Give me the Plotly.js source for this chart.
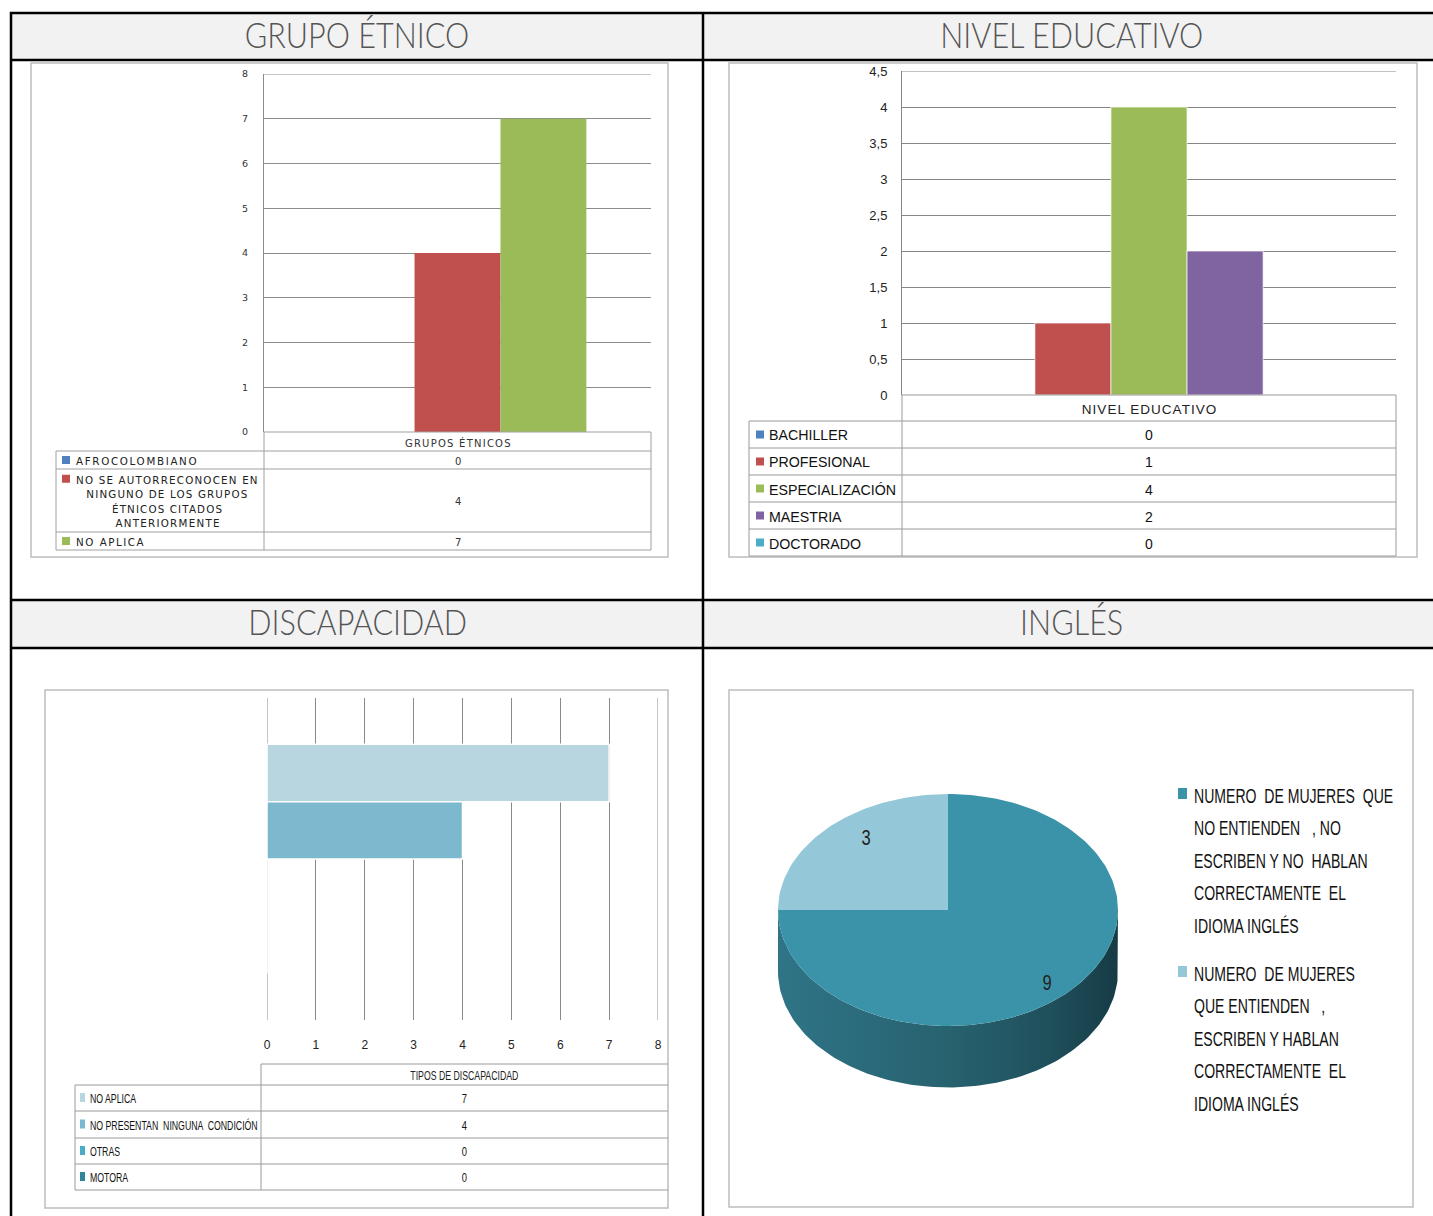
<!DOCTYPE html>
<html>
<head>
<meta charset="utf-8">
<script src="https://cdn.plot.ly/plotly-3.0.1.min.js"></script>
<style>html,body{margin:0;padding:0;background:#fff;}#chart{width:1433px;height:1216px;}</style>
</head>
<body>
<div id="chart"></div>
<script>
// ---------------- DATA ----------------
const panelTitles = ['GRUPO ÉTNICO', 'NIVEL EDUCATIVO', 'DISCAPACIDAD', 'INGLÉS'];

const etnicoCategory = 'GRUPOS ÉTNICOS';
const etnicoSeries = ['AFROCOLOMBIANO', 'NO SE AUTORRECONOCEN EN NINGUNO DE LOS GRUPOS ÉTNICOS CITADOS ANTERIORMENTE', 'NO APLICA'];
const etnicoLabelLines = [['AFROCOLOMBIANO'], ['NO SE AUTORRECONOCEN EN', 'NINGUNO DE LOS GRUPOS', 'ÉTNICOS CITADOS', 'ANTERIORMENTE'], ['NO APLICA']];
const etnicoValues = [0, 4, 7];

const educCategory = 'NIVEL EDUCATIVO';
const educSeries = ['BACHILLER', 'PROFESIONAL', 'ESPECIALIZACIÓN', 'MAESTRIA', 'DOCTORADO'];
const educValues = [0, 1, 4, 2, 0];

const discCategory = 'TIPOS DE DISCAPACIDAD';
const discSeries = ['NO APLICA', 'NO PRESENTAN  NINGUNA  CONDICIÓN', 'OTRAS', 'MOTORA'];
const discValues = [7, 4, 0, 0];

const inglesSeries = [
  'NUMERO DE MUJERES QUE NO ENTIENDEN , NO ESCRIBEN Y NO HABLAN CORRECTAMENTE EL IDIOMA INGLÉS',
  'NUMERO DE MUJERES QUE ENTIENDEN , ESCRIBEN Y HABLAN CORRECTAMENTE EL IDIOMA INGLÉS'
];
const inglesLegendLines = [
  ['NUMERO  DE MUJERES  QUE', 'NO ENTIENDEN   , NO', 'ESCRIBEN Y NO  HABLAN', 'CORRECTAMENTE  EL', 'IDIOMA INGLÉS'],
  ['NUMERO  DE MUJERES', 'QUE ENTIENDEN   ,', 'ESCRIBEN Y HABLAN', 'CORRECTAMENTE  EL', 'IDIOMA INGLÉS']
];
const inglesValues = [9, 3];

// ---------------- STYLE ----------------
const W = 1433, H = 1216;
const X = p => p / W, Y = p => 1 - p / H;
const etnicoColors = ['#4f81bd', '#c0504d', '#9bbb59'];
const educColors = ['#4f81bd', '#c0504d', '#9bbb59', '#8064a2', '#4bacc6'];
const discColors = ['#b7d6e0', '#7cb9cf', '#4bacc6', '#31849b'];
const inglesColors = ['#3b93a9', '#94c7d7'];
const NARROW = 'Liberation Sans, Arial, sans-serif';
const WIDE = 'DejaVu Sans, Verdana, sans-serif';
const CAL = 'Liberation Sans, Arial, sans-serif';

const shapes = [], ann = [], traces = [], stretch = [];
function line(x0, y0, x1, y1, color, width) {
  shapes.push({type: 'line', xref: 'paper', yref: 'paper', x0: X(x0), y0: Y(y0), x1: X(x1), y1: Y(y1), line: {color: color, width: width}});
}
function rect(x0, y0, x1, y1, fill, color, width, layer) {
  shapes.push({type: 'rect', xref: 'paper', yref: 'paper', x0: X(x0), y0: Y(y0), x1: X(x1), y1: Y(y1),
    fillcolor: fill || 'rgba(0,0,0,0)', line: {color: color || 'rgba(0,0,0,0)', width: width || 0}, layer: layer || 'above'});
}
// grid line at an axis value (edges of the value range)
function gridAt(axis, v, color) {
  const isX = axis[0] === 'x';
  const other = {x: 'y', x2: 'y2', x3: 'y3', y: 'x', y2: 'x2', y3: 'x3'}[axis];
  if (isX) shapes.push({type: 'line', xref: axis, yref: other + ' domain', x0: v, x1: v, y0: 0, y1: 1, line: {color: color, width: 1}, layer: 'below'});
  else shapes.push({type: 'line', yref: axis, xref: other + ' domain', y0: v, y1: v, x0: 0, x1: 1, line: {color: color, width: 1}, layer: 'below'});
}
// o.k = horizontal stretch factor, o.m = 'spacing' (letter spacing) | 'scale' (glyph compression)
function txt(text, x, y, o) {
  o = o || {};
  const xa = o.xa || 'center';
  ann.push({xref: 'paper', yref: 'paper', x: X(x), y: Y(y), text: text, showarrow: false,
    xanchor: xa, yanchor: 'middle', align: xa === 'left' ? 'left' : 'center',
    font: {family: o.f || WIDE, size: o.s || 10, color: o.c || '#222', weight: o.w || 400}});
  if (o.k) stretch.push({i: ann.length - 1, k: o.k, m: o.m || 'scale', left: xa === 'left'});
}

// ---------- Outer grid & headers ----------
rect(11, 13, 1433, 60, '#f2f2f2', null, 0, 'below');
rect(11, 600, 1433, 648, '#f2f2f2', null, 0, 'below');
[13, 60, 600, 648].forEach(y => line(10, y, 1433, y, '#000', 2.5));
[11, 703].forEach(x => line(x, 12, x, 1216, '#000', 2.5));
const titlePos = [[357, 34], [1072, 34], [357, 621], [1071, 621]];
panelTitles.forEach((t, i) => txt(t, titlePos[i][0], titlePos[i][1], {f: 'Lato, Open Sans, sans-serif', s: 36, c: '#555', w: 300, k: 0.85}));

// chart boxes
rect(31, 63, 668, 557, null, '#bdbdbd', 1.5);
rect(729, 63, 1417, 557, null, '#bdbdbd', 1.5);
rect(45, 690, 668, 1208, null, '#bdbdbd', 1.5);
rect(729, 690, 1413, 1207, null, '#bdbdbd', 1.5);

// ---------- Panel 1: Grupo étnico ----------
const etnicoMax = 8;
(function () {
  const n = etnicoSeries.length, w = 0.222;
  etnicoSeries.forEach((s, i) => traces.push({
    type: 'bar', name: s, x: [etnicoCategory], y: [etnicoValues[i]], xaxis: 'x', yaxis: 'y',
    width: w, offset: -n * w / 2 + i * w, marker: {color: etnicoColors[i], line: {width: 0}}
  }));
  gridAt('y', etnicoMax, '#8c8c8c');
  const L = 56, M = 264, R = 651, top = 432;
  const rows = [451, 469, 532, 550];
  const tc = '#a0a0a0';
  line(M, top, R, top, tc, 1);
  rows.forEach(y => line(L, y, R, y, tc, 1));
  line(M, top, M, rows[rows.length - 1], tc, 1);
  line(R, top, R, rows[rows.length - 1], tc, 1);
  line(L, rows[0], L, rows[rows.length - 1], tc, 1);
  txt(etnicoCategory, (M + R) / 2, (top + rows[0]) / 2 + 1, {s: 10, c: '#333', k: 1.18, m: 'spacing'});
  etnicoSeries.forEach((s, i) => {
    const y0 = rows[i], y1 = rows[i + 1];
    const lines = etnicoLabelLines[i];
    const lh = 14.5;
    const firstY = (y0 + y1) / 2 - (lines.length - 1) * lh / 2;
    rect(62, firstY - 4, 70, firstY + 4, etnicoColors[i], null, 0);
    lines.forEach((l, k) => {
      if (k === 0) txt(l, 74, firstY + 1, {s: 10.3, xa: 'left', c: '#222', k: lines.length > 1 ? 1.17 : 1.22, m: 'spacing'});
      else txt(l, 167, firstY + k * lh + 1, {s: 10.3, c: '#222', k: 1.17, m: 'spacing'});
    });
    txt(String(etnicoValues[i]), (M + R) / 2, (y0 + y1) / 2 + 1, {s: 10, c: '#333'});
  });
})();

// ---------- Panel 2: Nivel educativo ----------
const educMax = 4.5;
(function () {
  const n = educSeries.length, w = 0.154;
  educSeries.forEach((s, i) => traces.push({
    type: 'bar', name: s, x: [educCategory], y: [educValues[i]], xaxis: 'x2', yaxis: 'y2',
    width: w, offset: -n * w / 2 + i * w, marker: {color: educColors[i], line: {width: 1, color: 'rgba(255,255,255,0.7)'}}
  }));
  gridAt('y2', educMax, '#868686');
  const L = 749, M = 902, R = 1396, top = 395;
  const rows = [421, 448, 475, 502, 529, 556];
  const tc = '#9a9a9a';
  line(M, top, R, top, tc, 1);
  rows.forEach(y => line(L, y, R, y, tc, 1));
  line(M, top, M, rows[rows.length - 1], tc, 1);
  line(R, top, R, rows[rows.length - 1], tc, 1);
  line(L, rows[0], L, rows[rows.length - 1], tc, 1);
  txt(educCategory, (M + R) / 2, (top + rows[0]) / 2 + 1, {f: CAL, s: 13.5, c: '#222', k: 1.12, m: 'spacing'});
  educSeries.forEach((s, i) => {
    const yc = (rows[i] + rows[i + 1]) / 2;
    rect(756, yc - 4, 764, yc + 4, educColors[i], null, 0);
    txt(s, 767, yc + 1, {f: CAL, s: 14.5, xa: 'left', c: '#111', k: 0.98});
    txt(String(educValues[i]), (M + R) / 2, yc + 1, {f: CAL, s: 14, c: '#111'});
  });
})();

// ---------- Panel 3: Discapacidad ----------
const discMax = 8;
(function () {
  const n = discSeries.length, w = 0.178;
  discSeries.forEach((s, i) => traces.push({
    type: 'bar', orientation: 'h', name: s, y: [discCategory], x: [discValues[i]], xaxis: 'x3', yaxis: 'y3',
    width: w, offset: n * w / 2 - (i + 1) * w, marker: {color: discColors[i], line: {width: 1.5, color: '#ffffff'}}
  }));
  gridAt('x3', 0, '#8a8a8a');
  gridAt('x3', discMax, '#8a8a8a');
  const L = 75, M = 261, R = 668, top = 1064;
  const rows = [1085, 1111, 1138, 1164, 1190];
  const tc = '#9a9a9a';
  line(M, top, R, top, tc, 1);
  rows.forEach(y => line(L, y, R, y, tc, 1));
  line(M, top, M, rows[rows.length - 1], tc, 1);
  line(L, rows[0], L, rows[rows.length - 1], tc, 1);
  txt(discCategory, 464, (top + rows[0]) / 2 + 1, {f: NARROW, s: 12.5, c: '#222', k: 0.7});
  discSeries.forEach((s, i) => {
    const yc = (rows[i] + rows[i + 1]) / 2;
    rect(80, yc - 5, 85, yc + 4, discColors[i], null, 0);
    txt(s, 88, yc + 1, {f: NARROW, s: 12.5, xa: 'left', c: '#111', k: 0.7});
    txt(String(discValues[i]), 464, yc + 1, {f: NARROW, s: 12.5, c: '#111', k: 0.75});
  });
})();

// ---------- Panel 4: Inglés (3D-look pie) ----------
const pieCx = 948, pieCy = 910, pieRx = 170, pieRy = 116;
(function () {
  const depth = 0.53, N = 120;
  const total = inglesValues.reduce((a, b) => a + b, 0);
  // side wall (front half of the disc)
  const sx = [], sy = [];
  for (let k = 0; k <= N; k++) { const a = Math.PI + Math.PI * k / N; sx.push(Math.cos(a)); sy.push(Math.sin(a)); }
  for (let k = N; k >= 0; k--) { const a = Math.PI + Math.PI * k / N; sx.push(Math.cos(a)); sy.push(Math.sin(a) - depth); }
  traces.push({type: 'scatter', mode: 'lines', x: sx, y: sy, xaxis: 'x4', yaxis: 'y4', fill: 'toself',
    line: {width: 0, color: 'rgba(0,0,0,0)'},
    fillgradient: {type: 'horizontal', colorscale: [[0, '#2f7487'], [0.5, '#27626f'], [0.8, '#1f505c'], [1, '#163b45']]},
    hoverinfo: 'skip', showlegend: false});
  // top face slices, clockwise from 12 o'clock
  let start = 90;
  inglesValues.forEach((v, i) => {
    const sweep = 360 * v / total, a0 = start, a1 = start - sweep;
    const xs = [0], ys = [0], m = Math.max(4, Math.round(N * sweep / 180));
    for (let k = 0; k <= m; k++) { const a = (a0 + (a1 - a0) * k / m) * Math.PI / 180; xs.push(Math.cos(a)); ys.push(Math.sin(a)); }
    xs.push(0); ys.push(0);
    traces.push({type: 'scatter', mode: 'lines', x: xs, y: ys, xaxis: 'x4', yaxis: 'y4', fill: 'toself',
      fillcolor: inglesColors[i], line: {width: 0, color: inglesColors[i]}, name: inglesSeries[i], hoverinfo: 'skip'});
    const mid = (a0 + a1) / 2 * Math.PI / 180;
    ann.push({xref: 'x4', yref: 'y4', x: 0.75 * Math.cos(mid) + 0.05, y: 0.88 * Math.sin(mid), text: String(v), showarrow: false,
      font: {family: NARROW, size: 22, color: '#222'}});
    stretch.push({i: ann.length - 1, k: 0.75, m: 'scale', left: false});
    start = a1;
  });
  // legend
  const lh = 32.6, x0 = 1192;
  const groupTop = [795, 973];
  inglesLegendLines.forEach((lines, i) => {
    rect(1178, groupTop[i] - 7, 1187, groupTop[i] + 4, inglesColors[i], null, 0);
    lines.forEach((l, k) => txt(l, x0, groupTop[i] + k * lh, {f: NARROW, s: 21, xa: 'left', c: '#111', k: 0.67}));
  });
})();

const layout = {
  width: W, height: H, margin: {l: 0, r: 0, t: 0, b: 0},
  paper_bgcolor: '#ffffff', plot_bgcolor: 'rgba(0,0,0,0)',
  showlegend: false, hovermode: false, separators: ', ',
  barmode: 'group',
  shapes: shapes, annotations: ann,
  xaxis: {domain: [X(264), X(651)], anchor: 'y', type: 'category', range: [-0.5, 0.5], showticklabels: false,
    showgrid: false, zeroline: false, showline: false, ticks: ''},
  yaxis: {domain: [Y(432), Y(74)], anchor: 'x', range: [0, etnicoMax], dtick: 1, gridcolor: '#8c8c8c', gridwidth: 1,
    showline: true, linecolor: '#8c8c8c', zeroline: false, ticks: '', ticklabelstandoff: 13,
    tickfont: {family: WIDE, size: 9.5, color: '#333'}},
  xaxis2: {domain: [X(902), X(1396)], anchor: 'y2', type: 'category', range: [-0.5, 0.5], showticklabels: false,
    showgrid: false, zeroline: false, showline: false, ticks: ''},
  yaxis2: {domain: [Y(395), Y(71)], anchor: 'x2', range: [0, educMax], dtick: 0.5, gridcolor: '#868686', gridwidth: 1,
    showline: true, linecolor: '#868686', zeroline: false, ticks: '', ticklabelstandoff: 11,
    tickfont: {family: CAL, size: 13, color: '#222'}},
  xaxis3: {domain: [X(267), X(658)], anchor: 'y3', range: [0, discMax], dtick: 1, gridcolor: '#8a8a8a', gridwidth: 1,
    showline: false, zeroline: false, ticks: '', ticklabelstandoff: 16,
    tickfont: {family: NARROW, size: 12, color: '#222'}},
  yaxis3: {domain: [Y(1020), Y(698)], anchor: 'x3', type: 'category', range: [-0.5, 0.5], showticklabels: false,
    showgrid: false, zeroline: false, showline: false, ticks: ''},
  xaxis4: {domain: [X(729), X(1413)], anchor: 'y4', range: [(729 - pieCx) / pieRx, (1413 - pieCx) / pieRx], visible: false},
  yaxis4: {domain: [Y(1207), Y(690)], anchor: 'x4', range: [(pieCy - 1207) / pieRy, (pieCy - 690) / pieRy], visible: false}
};

Plotly.newPlot('chart', traces, layout, {staticPlot: true, displayModeBar: false}).then(function (gd) {
  stretch.forEach(function (s) {
    const g = gd.querySelector('.annotation[data-index="' + s.i + '"]');
    if (!g) return;
    const t = g.querySelector('text.annotation-text');
    if (!t) return;
    const len = t.getComputedTextLength();
    if (!(len > 0)) return;
    const newLen = len * s.k, d = len - newLen;
    if (s.m === 'spacing') {
      t.setAttribute('textLength', newLen.toFixed(2));
      t.setAttribute('lengthAdjust', 'spacing');
    } else {
      // horizontal glyph compression around the text anchor
      const ax = parseFloat(t.getAttribute('x') || '0');
      const prev = t.getAttribute('transform') || '';
      t.setAttribute('transform', (prev + ' translate(' + ax + ',0) scale(' + s.k + ',1) translate(' + (-ax) + ',0)').trim());
    }
    const bg = g.querySelector('rect.bg');
    if (bg) {
      const bw = parseFloat(bg.getAttribute('width') || '0');
      bg.setAttribute('width', Math.max(0, bw - d).toFixed(2));
      if (!s.left) bg.setAttribute('x', (parseFloat(bg.getAttribute('x') || '0') + d / 2).toFixed(2));
    }
  });
});
</script>
</body>
</html>
